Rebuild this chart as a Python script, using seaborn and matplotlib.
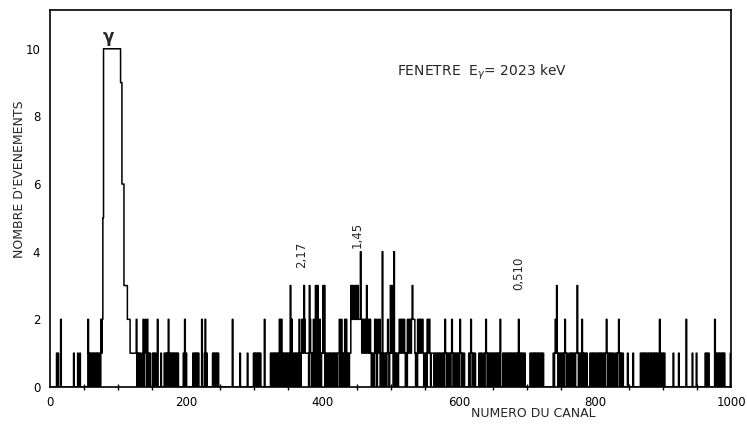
# Spectre en coincidence - fenetre E_gamma = 2023 keV
# Histogramme du nombre d'evenements par canal (trace en escalier)

import numpy as np
import pandas as pd
import matplotlib
matplotlib.use("Agg")
import matplotlib.pyplot as plt
import seaborn as sns
from matplotlib.ticker import MultipleLocator

# -----------------------------
# Donnees
# -----------------------------
n_channels = 1000

# (premier canal, contenus successifs des canaux ; 'a' = 10 coups)
segments = [
    (10, "1010002"),
    (35, "1"),
    (41, "1001"),
    (56, "2101010101010101010"),
    (75, "2125"),
    (79, "aaaaaaaaaaaaaaaaaaaaaaaaa"),
    (104, "99666333332222111111111"),
    (127, "20101010"),
    (136, "1201210201010"),
    (151, "10101"),
    (158, "2"),
    (163, "1"),
    (168, "101010201010101010101"),
    (196, "10201"),
    (210, "1010101010"),
    (223, "2"),
    (227, "1201"),
    (239, "1010101010"),
    (268, "2"),
    (279, "1"),
    (290, "1"),
    (299, "10101010101"),
    (315, "2"),
    (324, "1010101010"),
    (334, "1012022010"),
    (344, "1010101013"),
    (354, "0201010101"),
    (364, "1021012113"),
    (374, "2111110321"),
    (384, "0102103103"),
    (394, "1021011313"),
    (404, "0101010101"),
    (414, "0101010101"),
    (424, "1201201012"),
    (434, "0210101132"),
    (444, "3322323232"),
    (454, "2242122122"),
    (464, "1321212101"),
    (474, "0102120121"),
    (484, "2010410101"),
    (494, "0121013131"),
    (504, "0410101012"),
    (514, "2122122101"),
    (524, "0221221232"),
    (534, "2210102212"),
    (544, "2122101010"),
    (554, "2212101111"),
    (564, "0101010101"),
    (574, "0101012101"),
    (584, "0101012101"),
    (594, "0101010121"),
    (604, "0101100000"),
    (614, "0101210101"),
    (624, "1000001010"),
    (634, "1001012101"),
    (644, "0110101010"),
    (654, "1010101200"),
    (664, "0101011010"),
    (674, "1010110101"),
    (684, "1010210101"),
    (694, "1011000000"),
    (704, "0101101010"),
    (714, "1010110101"),
    (724, "1"),
    (739, "1012131010"),
    (749, "1010101210"),
    (759, "1001010101"),
    (769, "0101131010"),
    (779, "1021010101"),
    (789, "0000101010"),
    (799, "1101011010"),
    (809, "1010110121"),
    (819, "0101011010"),
    (829, "0101012101"),
    (839, "0110000001"),
    (856, "1"),
    (867, "1011010110"),
    (877, "1011010110"),
    (887, "1010110020"),
    (897, "1011010000"),
    (915, "1"),
    (923, "1"),
    (934, "2"),
    (943, "1"),
    (949, "1"),
    (962, "101011"),
    (976, "2101101010101010"),
    (999, "1"),
]

# raies annotees : (texte, canal, hauteur)
line_labels = ["2,17", "1,45", "0,510"]
line_channels = [369, 451, 688]
line_heights = [3.9, 4.5, 3.35]

# -----------------------------
# Construction du spectre
# -----------------------------
counts = np.zeros(n_channels, dtype=int)
for start, pattern in segments:
    for i, c in enumerate(pattern):
        counts[start + i] = int(c, 16)

df = pd.DataFrame({"canal": np.arange(n_channels), "coups": counts})

# -----------------------------
# Figure
# -----------------------------
sns.set_theme(style="white")
plt.rcParams["font.family"] = ["DejaVu Sans"]

fig = plt.figure(figsize=(7.47, 4.30), dpi=100)
ax = fig.add_axes([0.067, 0.10, 0.912, 0.877])

sns.histplot(data=df, x="canal", weights="coups", discrete=True,
             element="step", fill=False, color="black", linewidth=1.1, ax=ax)

ax.set_xlim(0, 1000)
ax.set_ylim(0, 11.15)

ax.xaxis.set_major_locator(MultipleLocator(200))
ax.xaxis.set_minor_locator(MultipleLocator(50))
ax.yaxis.set_major_locator(MultipleLocator(2))
ax.tick_params(axis="both", which="major", direction="inout", length=7,
               width=1.1, color="black", labelsize=8.5, labelcolor="black")
ax.tick_params(axis="x", which="minor", direction="inout", length=5,
               width=1.0, color="black", bottom=True)
ax.tick_params(axis="x", pad=3)

for side in ["left", "right", "top", "bottom"]:
    ax.spines[side].set_color("black")
    ax.spines[side].set_linewidth(1.2)

ax.set_xlabel("NUMERO DU CANAL", fontsize=9)
ax.xaxis.set_label_coords(0.709, -0.052)
ax.set_ylabel("NOMBRE D'EVENEMENTS", fontsize=9)
ax.yaxis.set_label_coords(-0.036, 0.55)

# annotations
ax.text(85, 10.35, "γ", fontsize=12, fontweight="bold", ha="center", va="center")
ax.text(635, 9.3, r"FENETRE  E$_\gamma$= 2023 keV", fontsize=10,
        ha="center", va="center")
for lab, ch, h in zip(line_labels, line_channels, line_heights):
    ax.text(ch, h, lab, rotation=90, fontsize=8.5, ha="center", va="center")

fig.savefig("out.png", dpi=100, facecolor="white")
